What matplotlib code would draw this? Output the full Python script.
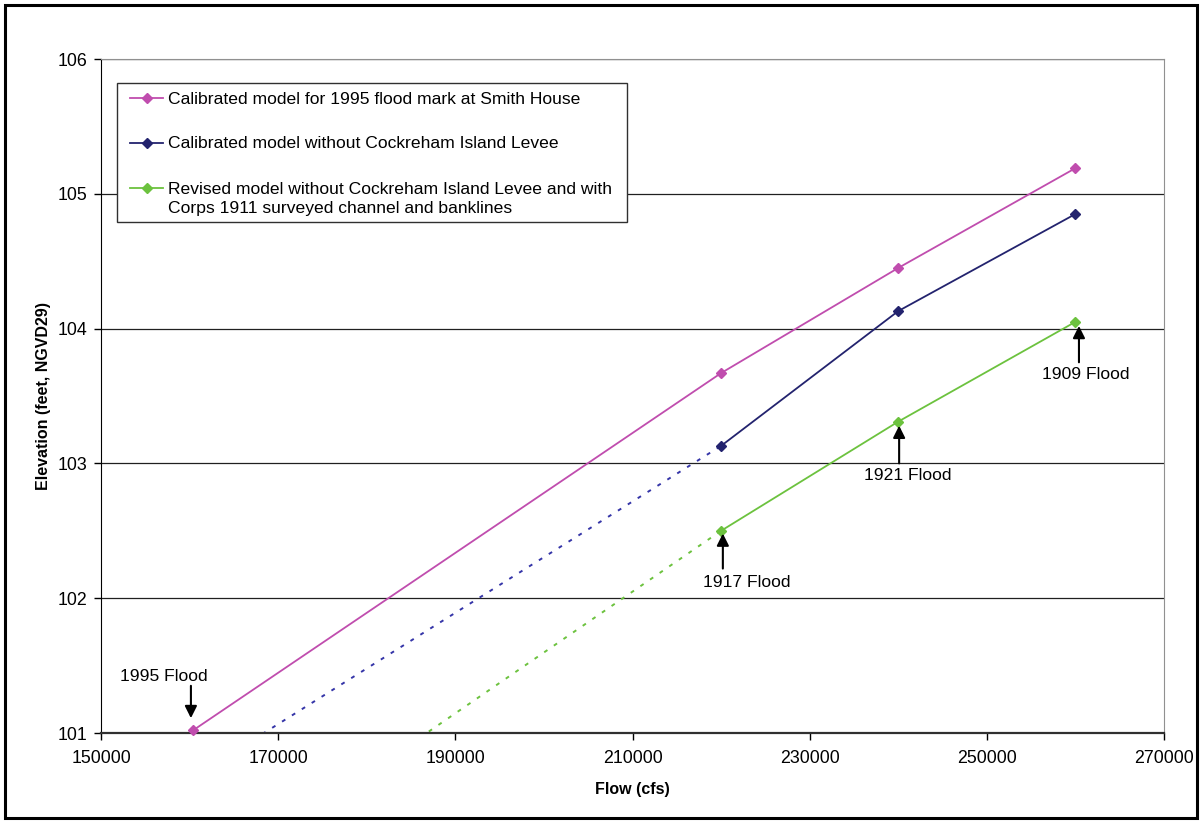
import matplotlib
matplotlib.use("Agg")
import matplotlib.pyplot as plt
from matplotlib.lines import Line2D
from matplotlib.patches import Rectangle

plt.rcParams["font.family"] = ["Liberation Sans", "DejaVu Sans"]

# --- data ---
flow_pink = [160400, 220000, 240000, 260000]
elev_pink = [101.02, 103.67, 104.45, 105.19]

flow_blue = [220000, 240000, 260000]
elev_blue = [103.13, 104.13, 104.85]
flow_blue_ext = [160400, 220000]
elev_blue_ext = [100.67, 103.13]

flow_green = [220000, 240000, 260000]
elev_green = [102.50, 103.31, 104.05]
flow_green_ext = [160400, 220000]
elev_green_ext = [99.81, 102.50]

labels = [
    "Calibrated model for 1995 flood mark at Smith House",
    "Calibrated model without Cockreham Island Levee",
    "Revised model without Cockreham Island Levee and with\nCorps 1911 surveyed channel and banklines",
]

# annotations: text, text position, arrow tail, arrow tip
floods = [
    ("1995 Flood", (157100, 101.42), (160150, 101.35), (160150, 101.11)),
    ("1917 Flood", (222900, 102.12), (220200, 102.22), (220200, 102.48)),
    ("1921 Flood", (241100, 102.91), (240100, 103.00), (240100, 103.28)),
    ("1909 Flood", (261200, 103.66), (260400, 103.75), (260400, 104.02)),
]

x_ticks = [150000, 170000, 190000, 210000, 230000, 250000, 270000]
y_ticks = [101, 102, 103, 104, 105, 106]

PINK = "#C04DAE"
NAVY = "#23236E"
BLUE_DOT = "#3535A8"
GREEN = "#6CC23E"

fig = plt.figure(figsize=(12.02, 8.23), dpi=100)
fig.patches.append(Rectangle((5 / 1202, 5 / 823), 1192 / 1202, 813 / 823,
                             transform=fig.transFigure, fill=False,
                             edgecolor="black", linewidth=2.2))
ax = fig.add_axes([101 / 1202, 1 - 733 / 823, 1063 / 1202, 674 / 823])

ax.set_xlim(150000, 270000)
ax.set_ylim(101, 106)

for y in y_ticks[1:]:
    ax.axhline(y, color="#202020", linewidth=0.9, zorder=1)

ax.plot(flow_blue_ext, elev_blue_ext, color=BLUE_DOT, linestyle=(0, (2, 4)),
        linewidth=1.4, zorder=2)
ax.plot(flow_green_ext, elev_green_ext, color=GREEN, linestyle=(0, (2, 4)),
        linewidth=1.4, zorder=2)

ax.plot(flow_pink, elev_pink, color=PINK, marker="D", markersize=5.5,
        linewidth=1.3, zorder=3, clip_on=False)
ax.plot(flow_blue, elev_blue, color=NAVY, marker="D", markersize=5.5,
        linewidth=1.3, zorder=3)
ax.plot(flow_green, elev_green, color=GREEN, marker="D", markersize=5.5,
        linewidth=1.3, zorder=3)

for txt, tpos, tail, tip in floods:
    ax.annotate("", xy=tip, xytext=tail,
                arrowprops=dict(arrowstyle="-|>", color="black", lw=1.5,
                                mutation_scale=18, shrinkA=0, shrinkB=0),
                zorder=4)
    ax.text(tpos[0], tpos[1], txt, ha="center", va="center", fontsize=12.6)

ax.set_xticks(x_ticks)
ax.set_yticks(y_ticks)
ax.set_xticklabels([str(v) for v in x_ticks])
ax.tick_params(axis="both", direction="out", length=5, width=1, labelsize=12.8,
               colors="black")
ax.tick_params(axis="x", pad=7)
ax.tick_params(axis="y", pad=4.5)

ax.spines["left"].set_color("black")
ax.spines["bottom"].set_color("#303030")
ax.spines["bottom"].set_linewidth(1.6)
ax.spines["right"].set_color("#909090")
ax.spines["top"].set_color("#909090")

ax.set_xlabel("Flow (cfs)", fontsize=11.5, fontweight="bold", labelpad=11)
ax.set_ylabel("Elevation (feet, NGVD29)", fontsize=11.5, fontweight="bold",
              labelpad=5)

# legend box drawn like the original (handle beside the first line)
lx0, lx1 = 16 / 1063, 526 / 1063
ly0, ly1 = 1 - 163 / 674, 1 - 24 / 674
ax.add_patch(Rectangle((lx0, ly0), lx1 - lx0, ly1 - ly0, transform=ax.transAxes,
                       facecolor="white", edgecolor="#303030", linewidth=1.0,
                       zorder=5))
colors = [PINK, NAVY, GREEN]
entry_y = [1 - 39 / 674, 1 - 84 / 674, 1 - 129 / 674]
for c, lab, ey in zip(colors, labels, entry_y):
    ax.add_line(Line2D([29 / 1063, 62 / 1063], [ey, ey], color=c, linewidth=1.3,
                       transform=ax.transAxes, zorder=6))
    ax.add_line(Line2D([45.5 / 1063], [ey], color=c, marker="D", markersize=5.5,
                       transform=ax.transAxes, zorder=6))
    ax.text(67 / 1063, ey + 6.5 / 674, lab, transform=ax.transAxes, fontsize=12.6,
            va="top", ha="left", linespacing=1.38, zorder=6)

fig.savefig("out.png", dpi=100)
